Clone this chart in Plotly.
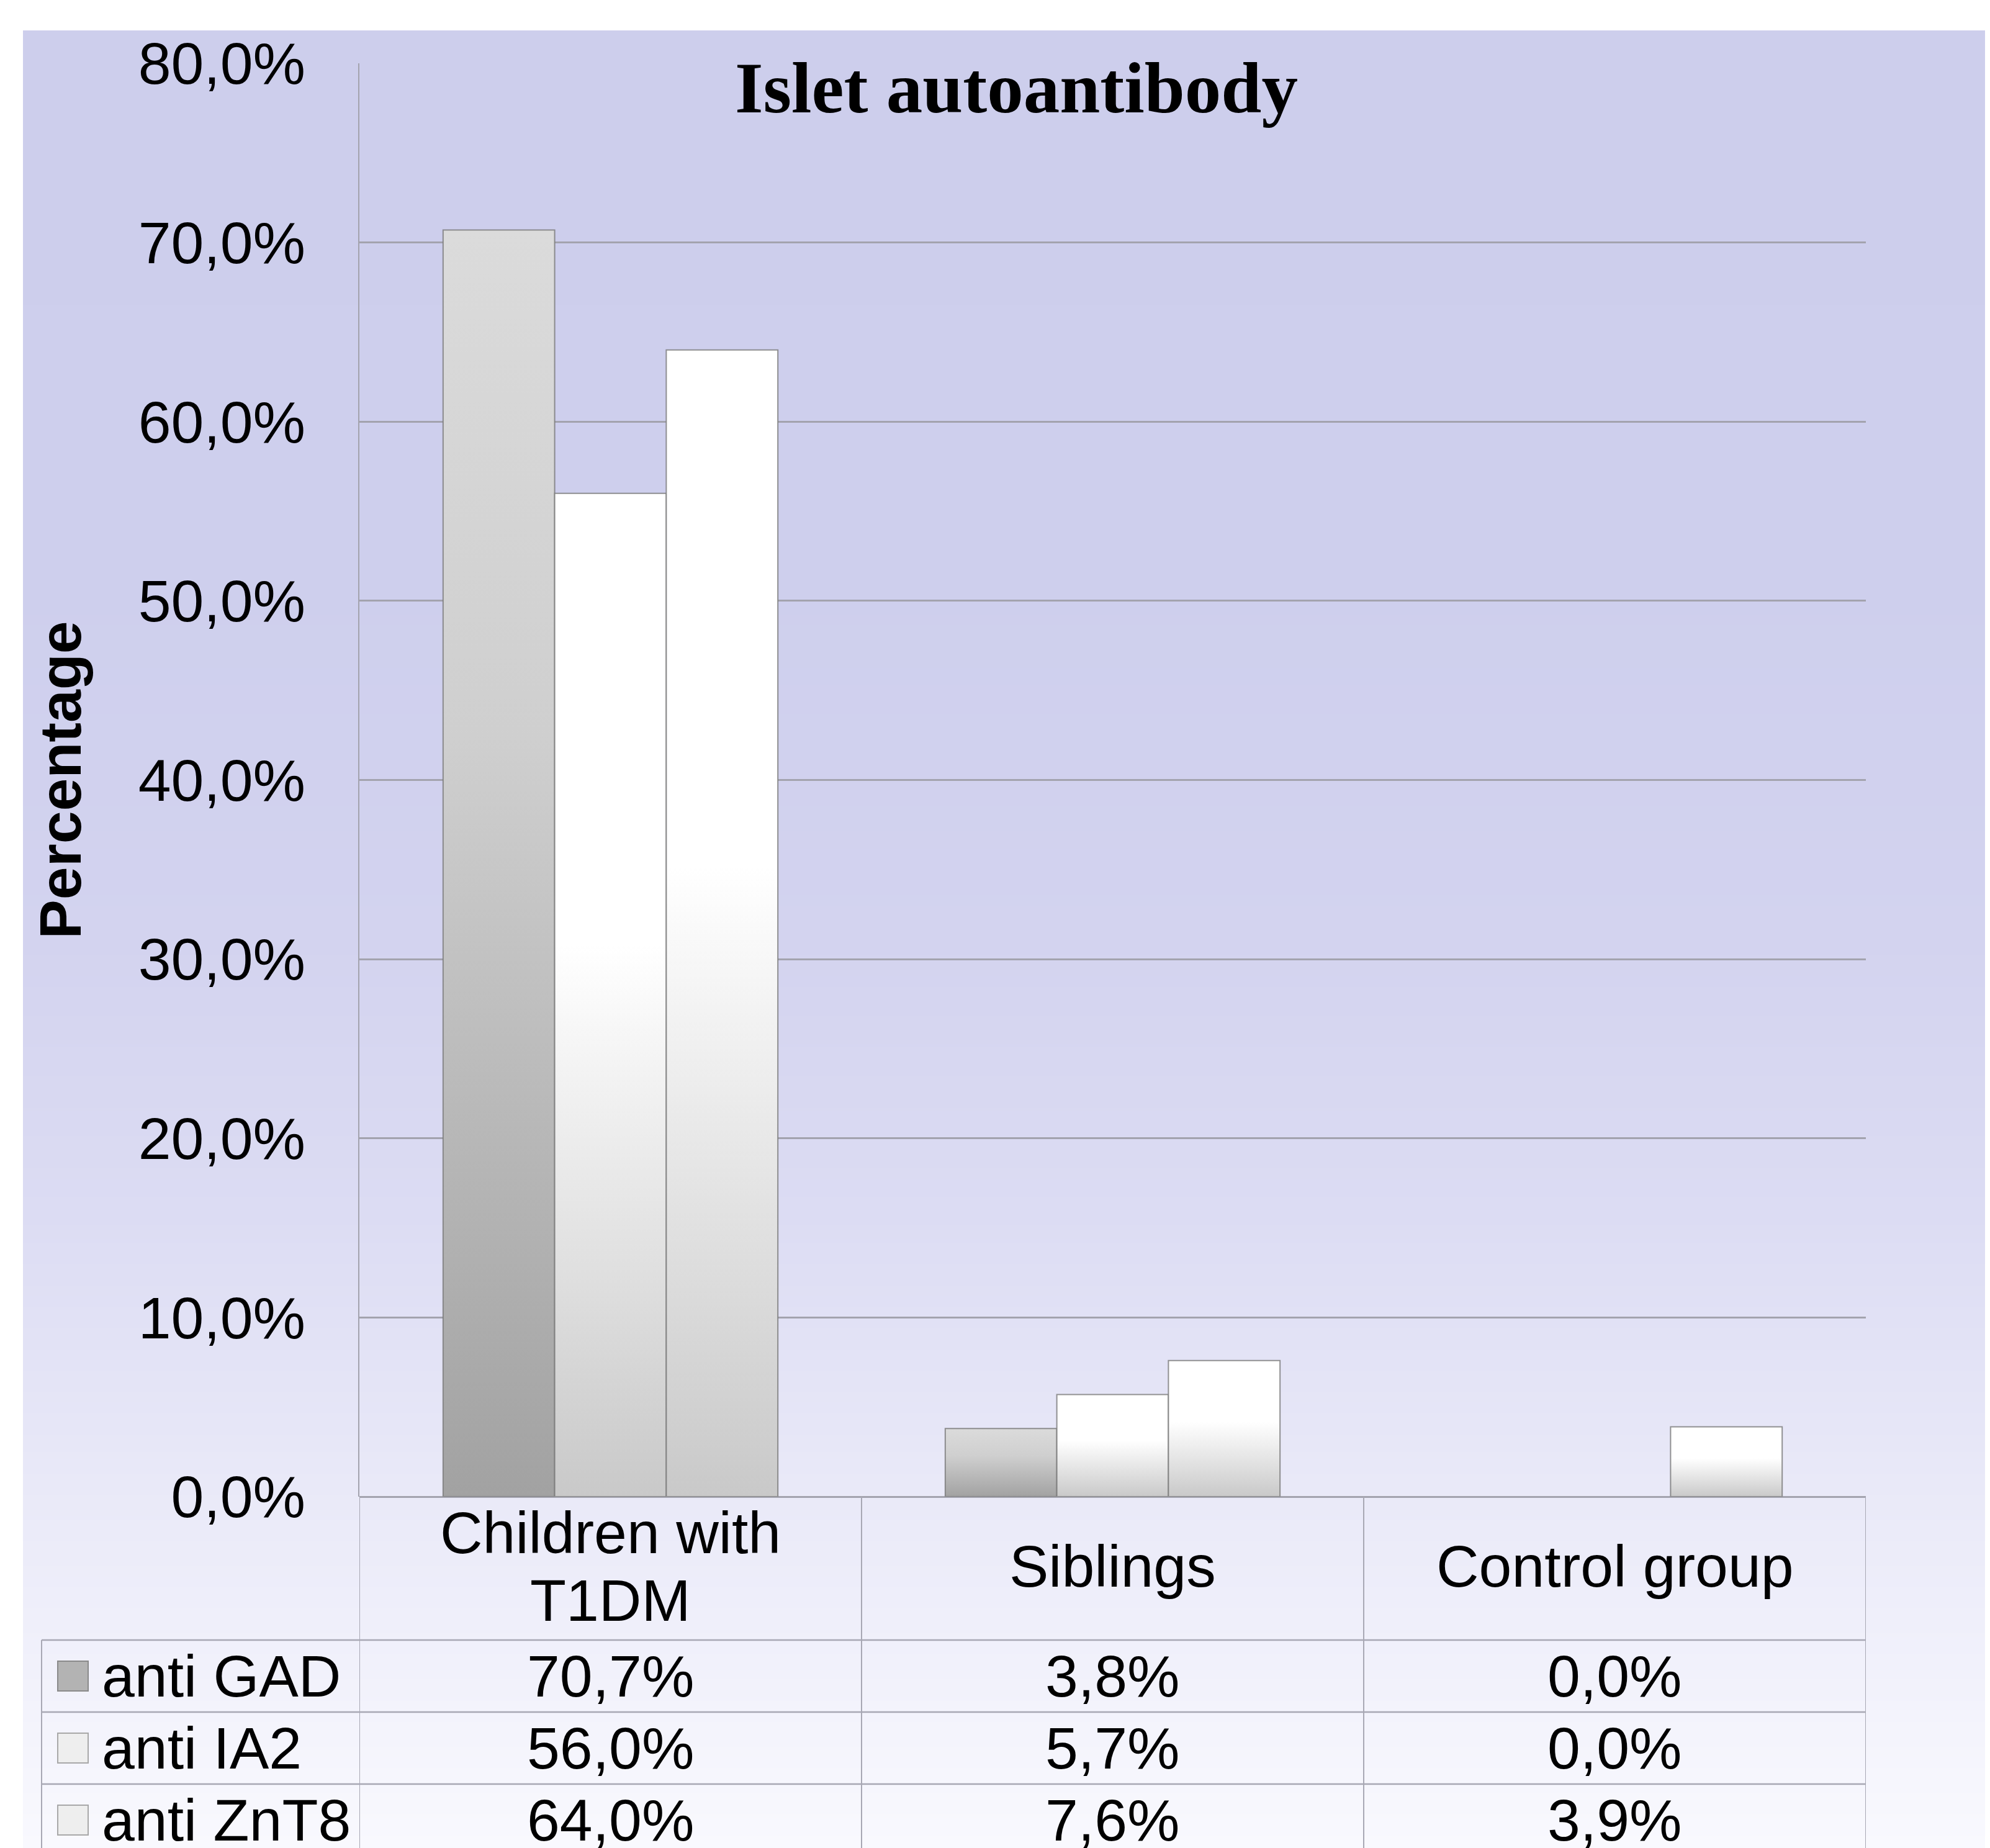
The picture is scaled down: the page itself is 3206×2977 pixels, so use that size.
import base64
import struct
import zlib

import plotly.graph_objects as go

# ---------------- data ----------------
categories = ["Children with<br>T1DM", "Siblings", "Control group"]
series_names = ["anti GAD", "anti IA2", "anti ZnT8"]
anti_gad = [70.7, 3.8, 0.0]
anti_ia2 = [56.0, 5.7, 0.0]
anti_znt8 = [64.0, 7.6, 3.9]
y_ticks = [0, 10, 20, 30, 40, 50, 60, 70, 80]

series_values = [anti_gad, anti_ia2, anti_znt8]


def fmt(v):
    return f"{v:.1f}%".replace(".", ",")


# ---------------- layout geometry (page pixels; page body has 8px margin) ----------------
OFF = 8
W, H = 3206 - OFF, 2977 - OFF
PL, PR, PT, PB = 579 - OFF, 3006 - OFF, 102 - OFF, 2411 - OFF  # plot area in figure px
PW, PH = PR - PL, PB - PT


def px(xp):
    """page pixel x -> paper"""
    return (xp - OFF - PL) / PW


def py(yp):
    """page pixel y -> paper"""
    return (PB - (yp - OFF)) / PH


FONT = "Liberation Sans, Arial, sans-serif"
GRID = "#A3A3AE"
TABLE_LINE = "#A8A8B4"

# ---------------- background gradient image ----------------
stops = [(0.0, (205, 206, 236)), (0.3, (206, 207, 237)), (0.5, (211, 211, 239)),
         (0.65, (220, 220, 243)), (0.8, (233, 233, 248)), (1.0, (249, 249, 254))]


def interp(t):
    for (t0, c0), (t1, c1) in zip(stops[:-1], stops[1:]):
        if t0 <= t <= t1:
            f = (t - t0) / (t1 - t0) if t1 > t0 else 0
            return tuple(int(round(a + (b - a) * f)) for a, b in zip(c0, c1))
    return stops[-1][1]


def make_png(rows):
    h = len(rows)
    w = len(rows[0])
    raw = b"".join(b"\x00" + bytes([c for p in row for c in p]) for row in rows)

    def chunk(t, d):
        return struct.pack(">I", len(d)) + t + d + struct.pack(">I", zlib.crc32(t + d) & 0xFFFFFFFF)

    return (b"\x89PNG\r\n\x1a\n" + chunk(b"IHDR", struct.pack(">IIBBBBB", w, h, 8, 2, 0, 0, 0))
            + chunk(b"IDAT", zlib.compress(raw)) + chunk(b"IEND", b""))


N = 512
rows = [[interp(i / (N - 1))] * 4 for i in range(N)]
bg_uri = "data:image/png;base64," + base64.b64encode(make_png(rows)).decode()

BG_L, BG_T = 37, 49  # page px

# ---------------- figure ----------------
fig = go.Figure()

bar_w = 1 / 4.5  # gap width 150%
scales = [
    [[0, "#A2A2A2"], [0.6, "#CFCFCF"], [1, "#DBDBDB"]],
    [[0, "#C9C9C9"], [0.25, "#E2E2E2"], [0.55, "#FFFFFF"], [1, "#FFFFFF"]],
    [[0, "#C9C9C9"], [0.25, "#E2E2E2"], [0.55, "#FFFFFF"], [1, "#FFFFFF"]],
]
n_series = len(series_values)
for j, (name, vals) in enumerate(zip(series_names, series_values)):
    for i, v in enumerate(vals):
        if v <= 0:
            continue
        x0 = i + (j - n_series / 2) * bar_w
        x1 = x0 + bar_w
        fig.add_trace(go.Scatter(
            x=[x0, x0, x1, x1, x0], y=[0, v, v, 0, 0],
            mode="lines", fill="toself",
            fillgradient=dict(type="vertical", colorscale=scales[j]),
            line=dict(color="rgba(120,120,120,0.8)", width=2),
            name=name, showlegend=False, hoverinfo="skip",
        ))

fig.update_layout(
    width=W, height=H,
    margin=dict(l=PL, r=W - PR, t=PT, b=H - PB, pad=0),
    paper_bgcolor="white", plot_bgcolor="rgba(0,0,0,0)",
    showlegend=False,
    font=dict(family=FONT, color="black"),
)
fig.update_xaxes(range=[-0.5, len(categories) - 0.5], showticklabels=False,
                 showgrid=False, zeroline=False, showline=False, fixedrange=True)
fig.update_yaxes(range=[0, 80], tickmode="array", tickvals=y_ticks,
                 ticktext=[fmt(t) for t in y_ticks],
                 showgrid=True, gridcolor=GRID, gridwidth=2.5,
                 zeroline=True, zerolinecolor=GRID, zerolinewidth=2.5,
                 showline=True, linecolor=GRID, linewidth=2,
                 ticks="", ticklabelstandoff=66,
                 tickfont=dict(family=FONT, size=95, color="black"), fixedrange=True)

# background image
fig.add_layout_image(dict(
    source=bg_uri, xref="paper", yref="paper",
    x=px(BG_L), y=py(BG_T), sizex=(3206 - BG_L) / PW, sizey=(2977 - BG_T) / PH,
    xanchor="left", yanchor="top", sizing="stretch", layer="below",
))

# ---------------- data table ----------------
HEAD_BOT = 2642  # page px
ROW_H = 116
LEG_L = 67
BOTTOM = 3000
shapes = []
for k in range(len(categories) + 1):
    shapes.append(dict(type="line", xref="x", yref="paper", x0=k - 0.5, x1=k - 0.5,
                       y0=0, y1=py(BOTTOM), line=dict(color=TABLE_LINE, width=2)))
shapes.append(dict(type="line", xref="paper", yref="paper", x0=px(LEG_L), x1=px(LEG_L),
                   y0=py(HEAD_BOT), y1=py(BOTTOM), line=dict(color=TABLE_LINE, width=2)))
for r in range(len(series_names) + 1):
    yy = HEAD_BOT + r * ROW_H
    shapes.append(dict(type="line", xref="paper", yref="paper", x0=px(LEG_L), x1=1,
                       y0=py(yy), y1=py(yy), line=dict(color=TABLE_LINE, width=2.5)))

key_fill = ["#B3B3B3", "#EEEEEE", "#EEEEEE"]
key_line = ["#8A8A8A", "#A8A8A8", "#A8A8A8"]
for r in range(len(series_names)):
    cy = HEAD_BOT + r * ROW_H + ROW_H / 2
    shapes.append(dict(type="rect", xref="paper", yref="paper",
                       x0=px(93), x1=px(142), y0=py(cy - 24), y1=py(cy + 24),
                       fillcolor=key_fill[r], line=dict(color=key_line[r], width=2)))
fig.update_layout(shapes=shapes)

annotations = []
HEAD_C = 2523
LINE_H = 109
for i, cat in enumerate(categories):
    lines = cat.split("<br>")
    n = len(lines)
    for k, ln in enumerate(lines):
        yc = HEAD_C + (k - (n - 1) / 2) * LINE_H
        annotations.append(dict(text=ln, xref="x", yref="paper", x=i, y=py(yc),
                                xanchor="center", yanchor="middle", showarrow=False,
                                font=dict(family=FONT, size=95, color="black")))

for r, (name, vals) in enumerate(zip(series_names, series_values)):
    cy = HEAD_BOT + r * ROW_H + ROW_H / 2
    annotations.append(dict(text=name, xref="paper", yref="paper", x=px(162), y=py(cy),
                            xanchor="left", yanchor="middle", showarrow=False,
                            font=dict(family=FONT, size=95, color="black")))
    for i, v in enumerate(vals):
        annotations.append(dict(text=fmt(v), xref="x", yref="paper", x=i, y=py(cy),
                                xanchor="center", yanchor="middle", showarrow=False,
                                font=dict(family=FONT, size=95, color="black")))

annotations.append(dict(text="<b>Percentage</b>", xref="paper", yref="paper",
                        x=px(96), y=0.5, textangle=-90, xanchor="center", yanchor="middle",
                        showarrow=False, font=dict(family=FONT, size=95, color="black")))
annotations.append(dict(text="<b>Islet autoantibody</b>", xref="paper", yref="paper",
                        x=px(1637), y=py(141), xanchor="center", yanchor="middle",
                        showarrow=False,
                        font=dict(family="Liberation Serif, Times New Roman, serif",
                                  size=117, color="black")))
fig.update_layout(annotations=annotations)

fig.write_html("out.html")
